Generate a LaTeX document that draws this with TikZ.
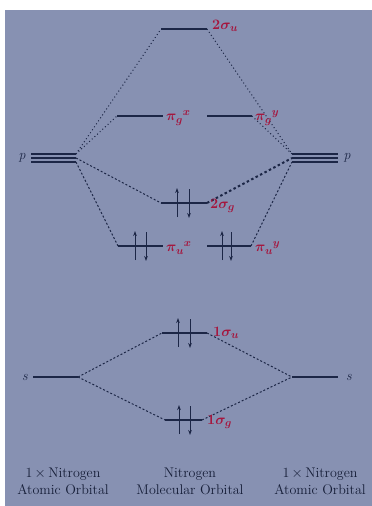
\documentclass[tikz,border=0pt]{standalone}
\usepackage{amsmath,bm}
\usetikzlibrary{arrows.meta}
\definecolor{bgc}{RGB}{135,145,178}
\definecolor{lnc}{RGB}{28,38,70}
\definecolor{labc}{RGB}{165,22,62}
\begin{document}
\begin{tikzpicture}[x=1pt,y=-1pt,
  lvl/.style={draw=lnc, line width=1.1pt},
  dotcon/.style={draw=lnc, line width=1pt, dash pattern=on 1pt off 2.6pt},
  dashcon/.style={draw=lnc, line width=1pt, dash pattern=on 2pt off 2pt},
  thickcon/.style={draw=lnc, line width=2pt, dash pattern=on 2.5pt off 2.5pt},
  elec/.style={draw=lnc, line width=1pt},
  up/.style={elec, -{Stealth[length=5pt,width=3.6pt]}},
  lab/.style={text=labc, anchor=west, inner sep=0pt, font=\fontsize{15}{15}\selectfont},
  atom/.style={text=lnc, inner sep=0pt, font=\fontsize{14}{14}\selectfont\itshape},
  captext/.style={text=lnc!80!black, align=center, inner sep=0pt, font=\fontsize{14}{17}\selectfont}]
\useasboundingbox (0,0) rectangle (372,506);
\fill[bgc] (5,10) rectangle (372,506);
% coordinates of levels
\coordinate (suL) at (161,29);  \coordinate (suR) at (207,29);
\coordinate (pgxL) at (117,116); \coordinate (pgxR) at (163,116);
\coordinate (pgyL) at (207,116); \coordinate (pgyR) at (252,116);
\coordinate (sgL) at (161,203); \coordinate (sgR) at (207,203);
\coordinate (puxL) at (118,246); \coordinate (puxR) at (163,246);
\coordinate (puyL) at (207,246); \coordinate (puyR) at (251,246);
\coordinate (s1uL) at (162,333); \coordinate (s1uR) at (207,333);
\coordinate (s1gL) at (165,420); \coordinate (s1gR) at (202,420);
\coordinate (pLa) at (31,154); \coordinate (pLaR) at (76,154);
\coordinate (pLb) at (31,158); \coordinate (pLbR) at (76,158);
\coordinate (pLc) at (31,162); \coordinate (pLcR) at (76,162);
\coordinate (pRa) at (292,154); \coordinate (pRaR) at (338,154);
\coordinate (pRb) at (292,158); \coordinate (pRbR) at (338,158);
\coordinate (pRc) at (292,162); \coordinate (pRcR) at (338,162);
\coordinate (sLL) at (33,377); \coordinate (sLR) at (78,377);
\coordinate (sRL) at (292,377); \coordinate (sRR) at (338,377);
% levels
\foreach \a/\b in {suL/suR,pgxL/pgxR,pgyL/pgyR,sgL/sgR,puxL/puxR,puyL/puyR,s1uL/s1uR,s1gL/s1gR,pLa/pLaR,pLb/pLbR,pLc/pLcR,pRa/pRaR,pRb/pRbR,pRc/pRcR,sLL/sLR,sRL/sRR}
  \draw[lvl] (\a) -- (\b);
% connectors
\draw[dotcon] (pLaR) -- (suL);
\draw[dotcon] (pLaR) -- (pgxL);
\draw[dotcon] (suR) -- (pRa);
\draw[dotcon] (pgyR) -- (pRa);
\draw[dashcon] (pLbR) -- (sgL);
\draw[dashcon] (pLcR) -- (puxL);
\draw[thickcon] (sgR) -- (pRb);
\draw[dashcon] (puyR) -- (pRc);
\draw[dashcon] (sLR) -- (s1uL);
\draw[dashcon] (sLR) -- (s1gL);
\draw[dashcon] (s1uR) -- (sRL);
\draw[dashcon] (s1gR) -- (sRL);
% electrons
\foreach \xu/\xd/\y in {177/189/203, 135/146/246, 222/231/246, 178/190/333, 179/190/420}{
  \draw[up] (\xu,\y+14) -- (\xu,\y-15);
  \draw[up] (\xd,\y-14) -- (\xd,\y+15);
}
% labels
\node[lab] (lsu) at (212,26) {$\bm{2\sigma_{u}}$};
\node[lab] (lpgx) at (166,118) {$\bm{\pi_{g}{}^{x}}$};
\node[lab] (lpgy) at (255,118) {$\bm{\pi_{g}{}^{y}}$};
\node[lab] (lsg) at (210,206) {$\bm{2\sigma_{g}}$};
\node[lab] (lpux) at (166,248) {$\bm{\pi_{u}{}^{x}}$};
\node[lab] (lpuy) at (255,248) {$\bm{\pi_{u}{}^{y}}$};
\node[lab] (l1u) at (213,333) {$\bm{1\sigma_{u}}$};
\node[lab] (l1g) at (207,422) {$\bm{1\sigma_{g}}$};
\node[atom] (pl) at (22,158) {p};
\node[atom] (pr) at (347,158) {p};
\node[atom] (sl) at (25,377) {s};
\node[atom] (sr) at (349,377) {s};
% captions
\node[captext] (c1) at (63,481) {1\,$\times$\,Nitrogen\\Atomic Orbital};
\node[captext] (c2) at (190,481) {Nitrogen\\Molecular Orbital};
\node[captext] (c3) at (320,481) {1\,$\times$\,Nitrogen\\Atomic Orbital};
\end{tikzpicture}
\end{document}
